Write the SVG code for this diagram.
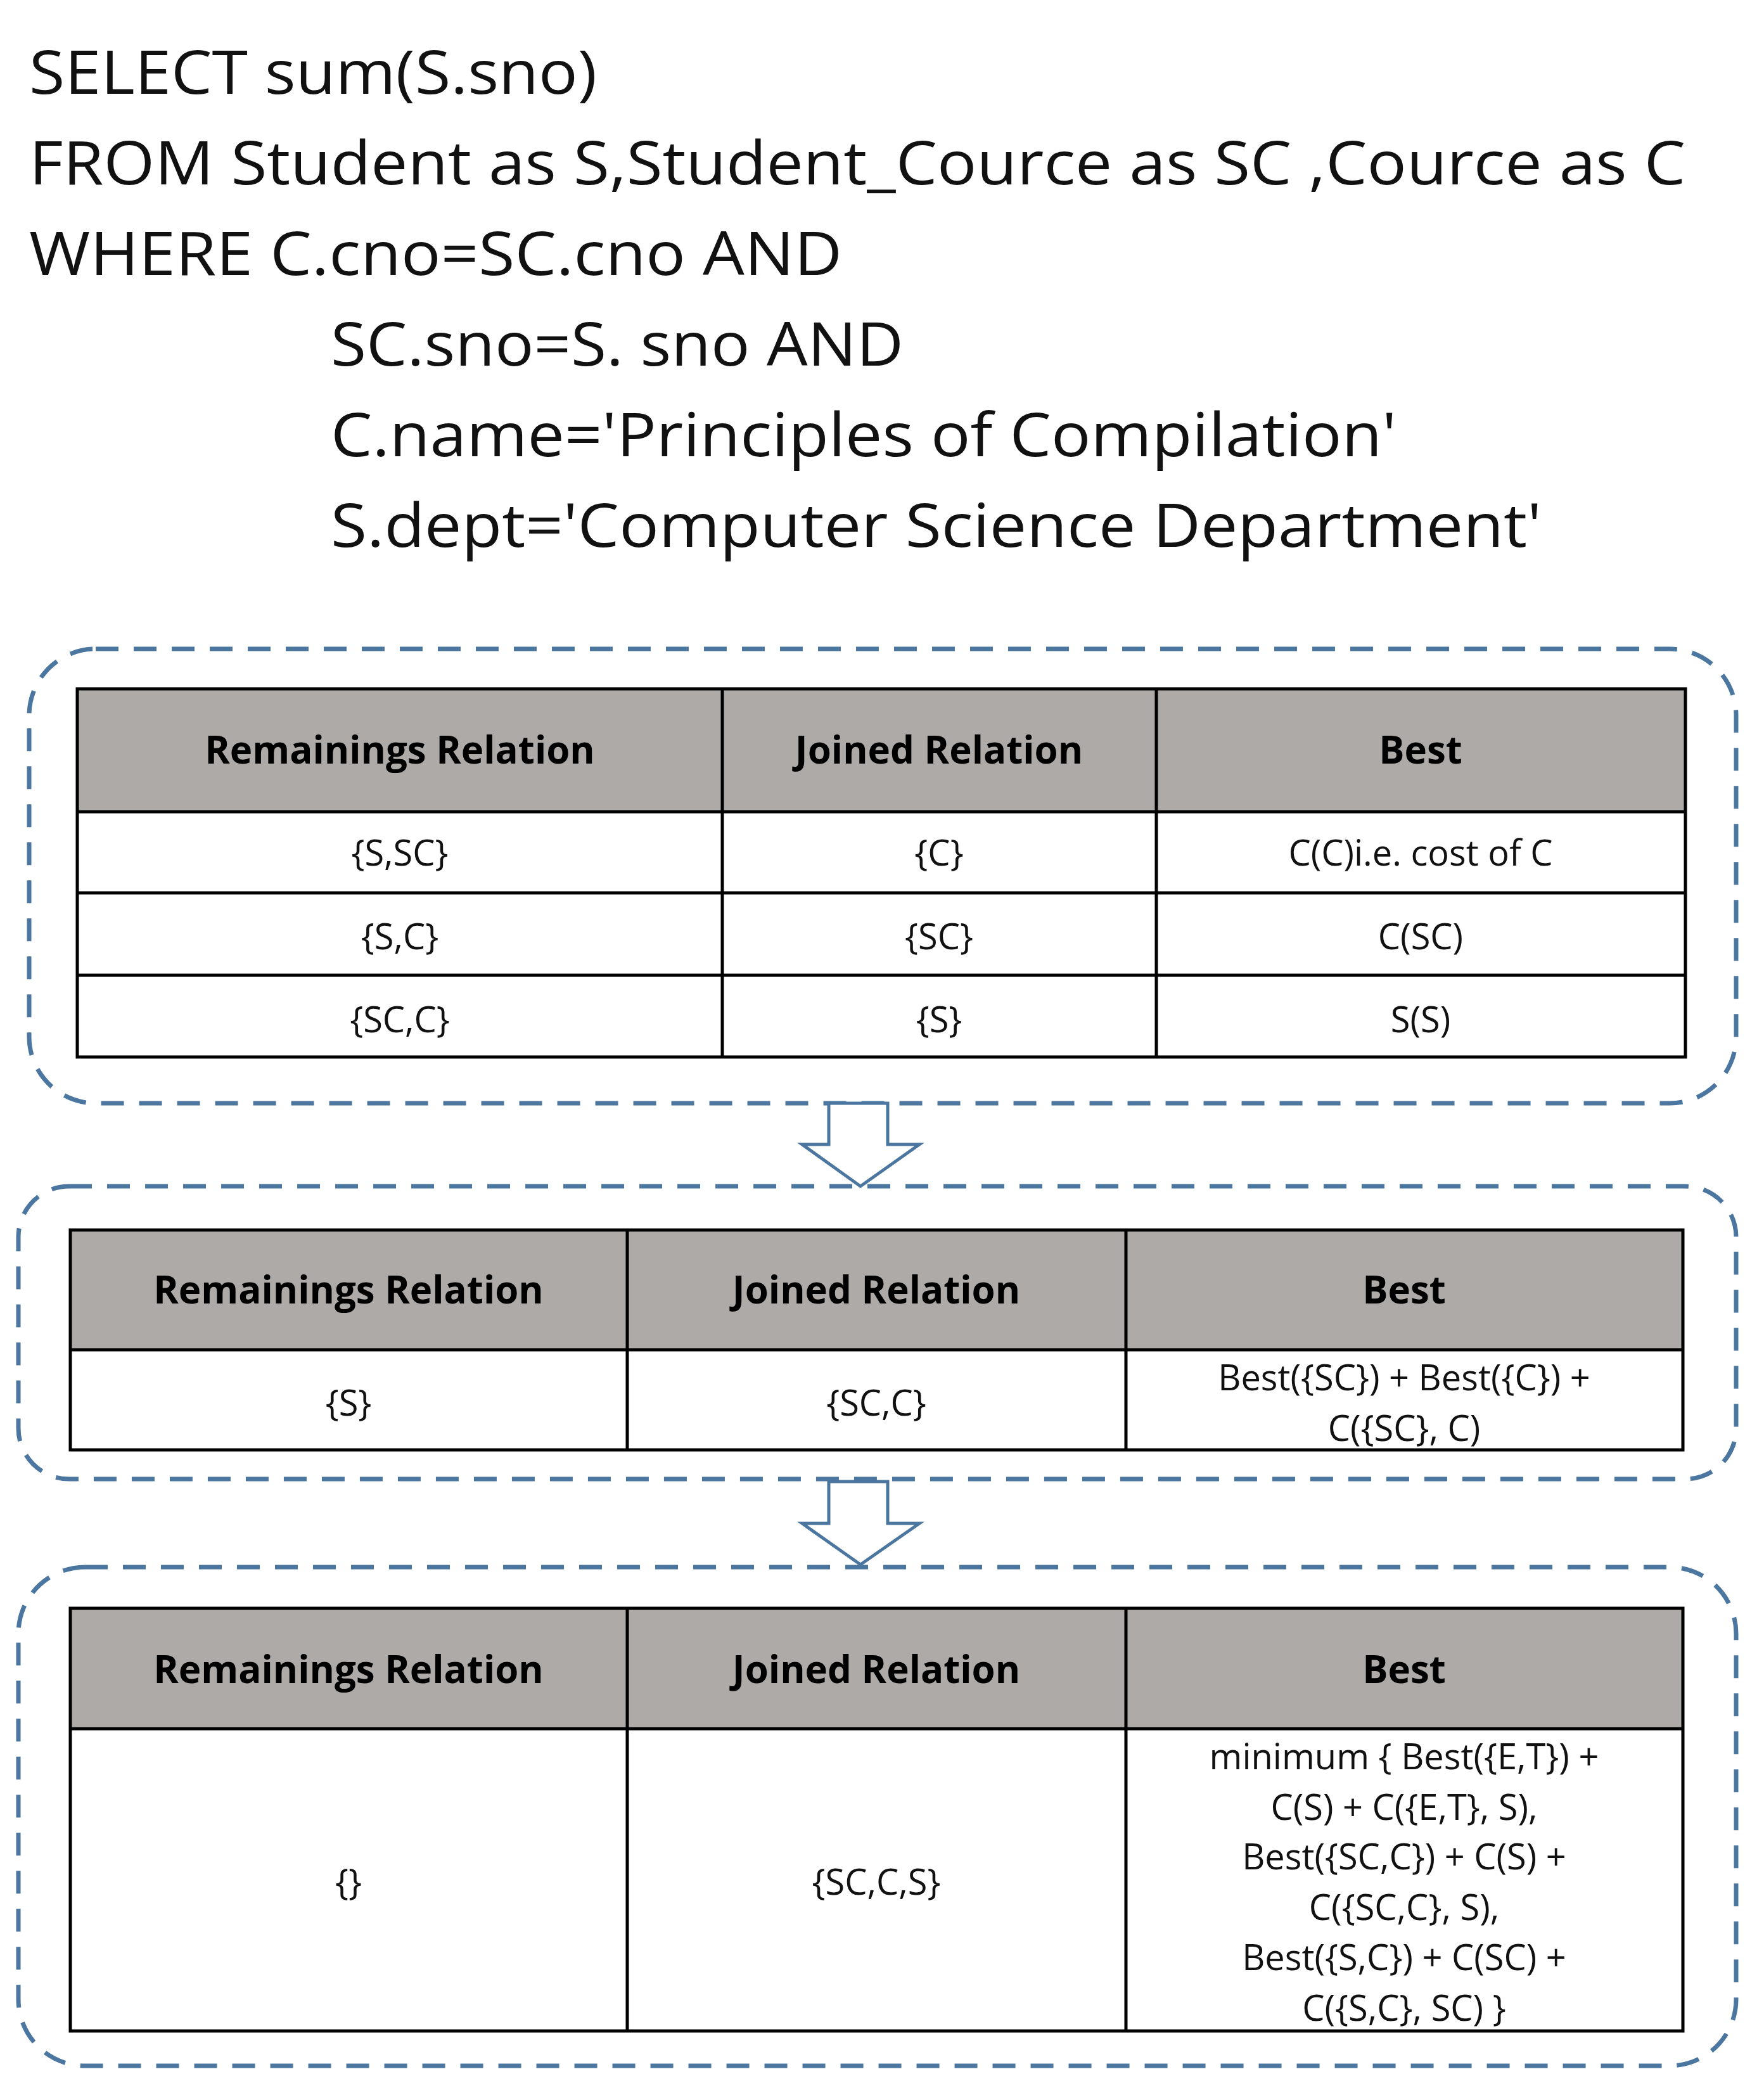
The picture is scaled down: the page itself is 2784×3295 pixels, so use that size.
<svg xmlns="http://www.w3.org/2000/svg" width="2784" height="3295" viewBox="0 0 2784 3295">
<style>
.q{font-family:"Open Sans","Noto Sans",sans-serif;font-size:96px;fill:#111}
.h{font-family:"Open Sans","Noto Sans",sans-serif;font-size:60px;font-weight:bold;fill:#000;text-anchor:middle}
.c{font-family:"Open Sans","Noto Sans",sans-serif;font-size:56px;fill:#111;text-anchor:middle}
.box{fill:none;stroke:#4a76a0;stroke-width:7;stroke-dasharray:36 24}
.hd{fill:#aeaaa8;stroke:none}
.ln{stroke:#000;stroke-width:5;fill:none}
.ar{fill:#fff;stroke:#4a76a0;stroke-width:5}
</style>
<rect width="2784" height="3295" fill="#fff"/>
<g id="query">
<text class="q" x="46" y="148" textLength="896" lengthAdjust="spacingAndGlyphs">SELECT sum(S.sno)</text>
<text class="q" x="46" y="291" textLength="2614" lengthAdjust="spacingAndGlyphs">FROM Student as S,Student_Cource as SC ,Cource as C</text>
<text class="q" x="46" y="434" textLength="1283" lengthAdjust="spacingAndGlyphs">WHERE C.cno=SC.cno AND</text>
<text class="q" x="522" y="577" textLength="904" lengthAdjust="spacingAndGlyphs">SC.sno=S. sno AND</text>
<text class="q" x="522" y="720" textLength="1682" lengthAdjust="spacingAndGlyphs">C.name='Principles of Compilation'</text>
<text class="q" x="522" y="863" textLength="1911" lengthAdjust="spacingAndGlyphs">S.dept='Computer Science Department'</text>
</g>
<g id="stage1">
<rect class="box" x="46" y="1024" width="2694" height="717" rx="105"/>
<rect class="hd" x="122" y="1087" width="2538" height="194"/>
<rect class="ln" x="122" y="1087" width="2538" height="581"/>
<path class="ln" d="M122 1281H2660M122 1409H2660M122 1539H2660M1140 1087V1668M1825 1087V1668"/>
<text class="h" x="631" y="1205">Remainings Relation</text>
<text class="h" x="1482" y="1205">Joined Relation</text>
<text class="h" x="2242" y="1205">Best</text>
<text class="c" x="631" y="1366">{S,SC}</text>
<text class="c" x="1482" y="1366">{C}</text>
<text class="c" x="2242" y="1366">C(C)i.e. cost of C</text>
<text class="c" x="631" y="1498">{S,C}</text>
<text class="c" x="1482" y="1498">{SC}</text>
<text class="c" x="2242" y="1498">C(SC)</text>
<text class="c" x="631" y="1629">{SC,C}</text>
<text class="c" x="1482" y="1629">{S}</text>
<text class="c" x="2242" y="1629">S(S)</text>
</g>
<g id="stage2">
<rect class="box" x="29" y="1872" width="2711" height="462" rx="80"/>
<rect class="hd" x="111" y="1941" width="2545" height="189"/>
<rect class="ln" x="111" y="1941" width="2545" height="347"/>
<path class="ln" d="M111 2130H2656M990 1941V2288M1777 1941V2288"/>
<text class="h" x="550" y="2057">Remainings Relation</text>
<text class="h" x="1383" y="2057">Joined Relation</text>
<text class="h" x="2216" y="2057">Best</text>
<text class="c" x="550" y="2234">{S}</text>
<text class="c" x="1383" y="2234">{SC,C}</text>
<text class="c" x="2216" y="2194">Best({SC}) + Best({C}) +</text>
<text class="c" x="2216" y="2274">C({SC}, C)</text>
</g>
<g id="stage3">
<rect class="box" x="29" y="2473" width="2711" height="787" rx="105"/>
<rect class="hd" x="111" y="2538" width="2545" height="190"/>
<rect class="ln" x="111" y="2538" width="2545" height="667"/>
<path class="ln" d="M111 2728H2656M990 2538V3205M1777 2538V3205"/>
<text class="h" x="550" y="2656">Remainings Relation</text>
<text class="h" x="1383" y="2656">Joined Relation</text>
<text class="h" x="2216" y="2656">Best</text>
<text class="c" x="550" y="2990">{}</text>
<text class="c" x="1383" y="2990">{SC,C,S}</text>
<text class="c" x="2216" y="2792">minimum { Best({E,T}) +</text>
<text class="c" x="2216" y="2872">C(S) + C({E,T}, S),</text>
<text class="c" x="2216" y="2950">Best({SC,C}) + C(S) +</text>
<text class="c" x="2216" y="3030">C({SC,C}, S),</text>
<text class="c" x="2216" y="3109">Best({S,C}) + C(SC) +</text>
<text class="c" x="2216" y="3189">C({S,C}, SC) }</text>
</g>
<g id="connectors">
<path class="ar" d="M1308 1741H1401V1806H1451L1358 1872L1266 1806H1308Z"/>
<path class="ar" d="M1308 2338H1401V2404H1451L1358 2469L1266 2404H1308Z"/>
</g>
</svg>
